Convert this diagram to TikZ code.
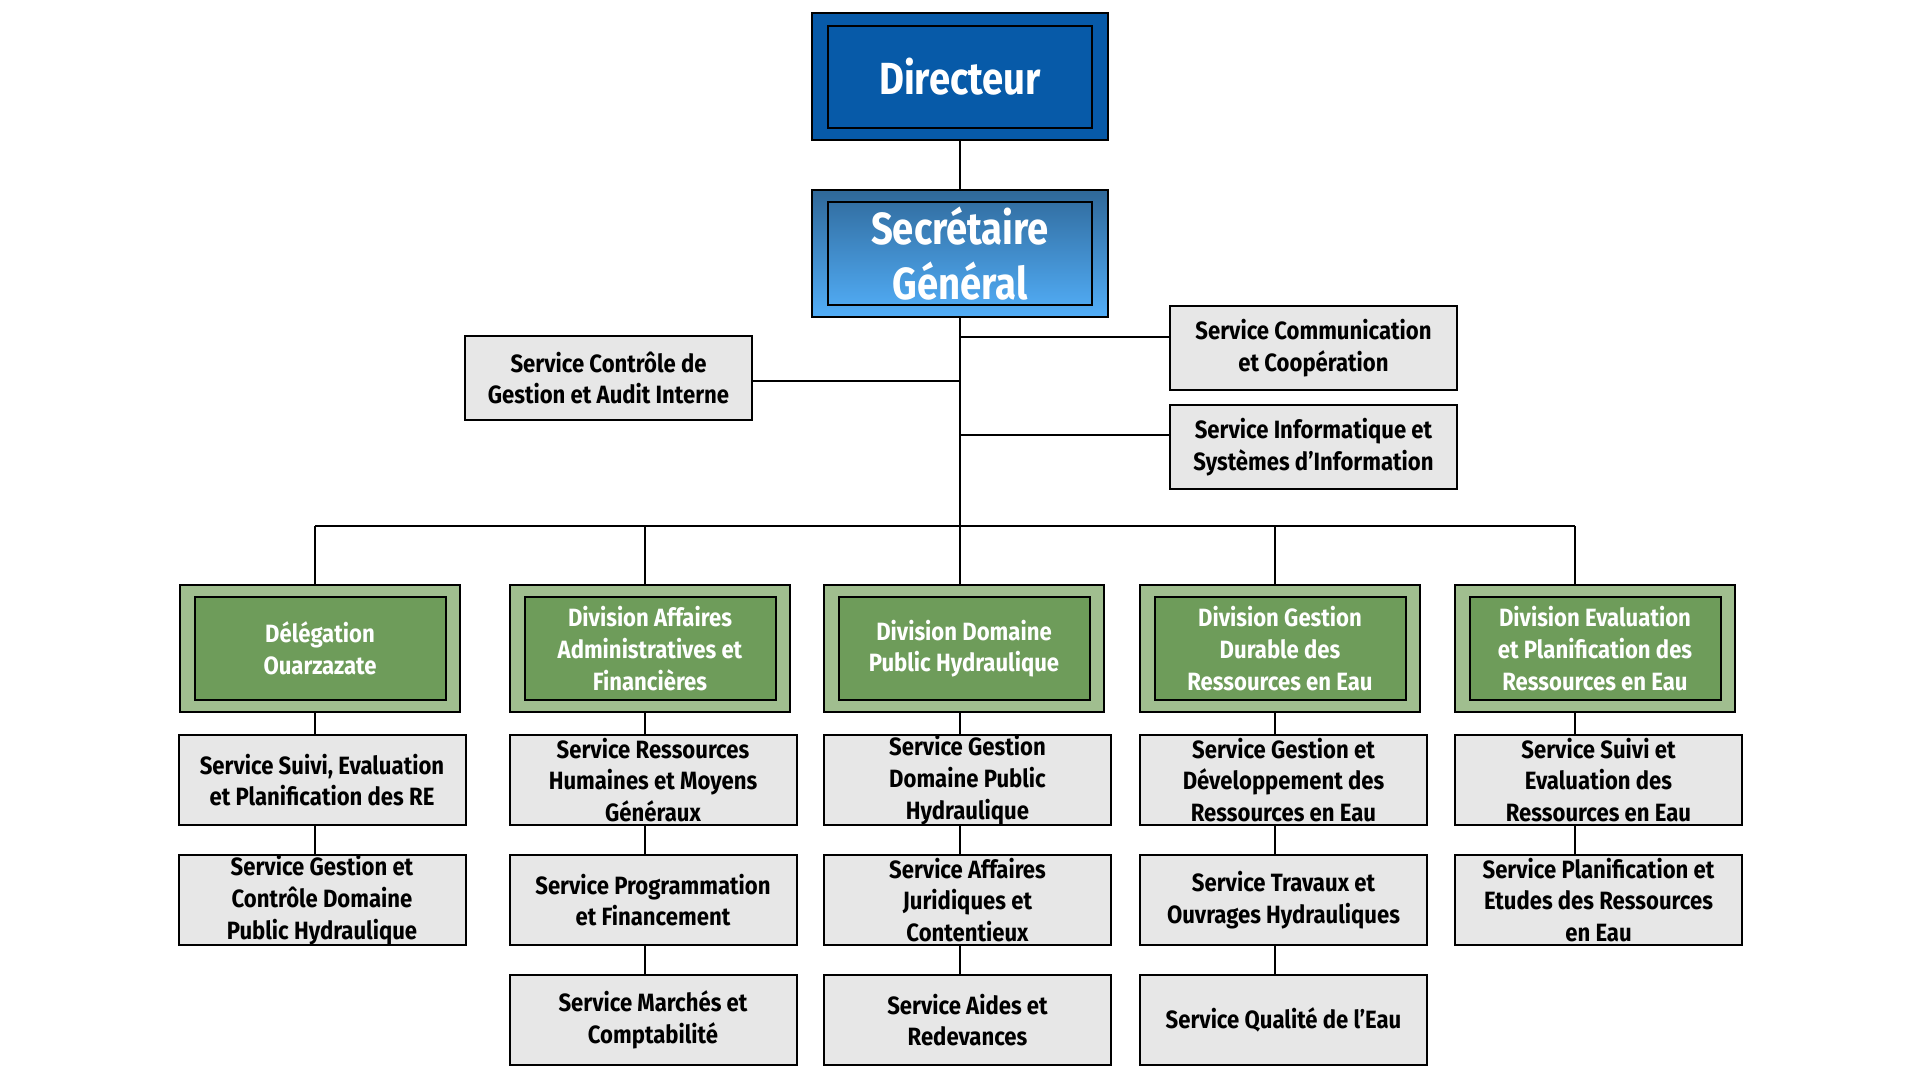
\documentclass[tikz,border=0pt]{standalone}
\usepackage{fontspec}
\newfontfamily\cf[FakeStretch=0.885]{Fira Sans}
\newfontfamily\cfbig[FakeStretch=0.85]{Fira Sans}
\definecolor{dirblue}{HTML}{075AA8}
\definecolor{sgtop}{HTML}{2F6899}
\definecolor{sgbot}{HTML}{52AEF8}
\definecolor{divlight}{HTML}{A0BE8F}
\definecolor{divdark}{HTML}{6E9C5A}
\definecolor{svcgray}{HTML}{E7E7E7}
\begin{document}
\begin{tikzpicture}[x=1pt,y=-1pt,
  box/.style={draw=black,line width=2pt,inner sep=0pt,outer sep=0pt,align=center},
  dirouter/.style={box,fill=dirblue,minimum width=296pt,minimum height=127pt},
  dirinner/.style={box,fill=dirblue,minimum width=264pt,minimum height=102pt,text=white,font=\cfbig\bfseries\fontsize{45}{54}\selectfont},
  sgouter/.style={box,top color=sgtop,bottom color=sgbot,minimum width=296pt,minimum height=127pt},
  sginner/.style={box,top color=sgtop!88!sgbot,bottom color=sgbot!92!sgtop,minimum width=264pt,minimum height=103pt,text=white,font=\cfbig\bfseries\fontsize{45}{55}\selectfont},
  divouter/.style={box,fill=divlight,minimum width=280pt,minimum height=127pt},
  divinner/.style={box,fill=divdark,minimum width=251pt,minimum height=103pt,text=white,font=\cf\bfseries\fontsize{25}{31.7}\selectfont},
  svc/.style={box,fill=svcgray,minimum width=287pt,minimum height=90pt,text=black,font=\cf\bfseries\fontsize{25}{31.7}\selectfont},
  side/.style={svc,minimum height=84pt},
  conn/.style={draw=black,line width=2pt}]
\useasboundingbox[fill=white] (0,0) rectangle (1920,1080);

% top
\node[dirouter] (dir) at (960,76.5) {};
\node[dirinner] (dirin) at (960,77) {Directeur};
\node[sgouter] (sg) at (960,253.5) {};
\node[sginner] (sgin) at (960,253.5) {Secrétaire\\Général};

% side services
\node[side] (ctrl) at (608.5,378) {Service Contrôle de\\Gestion et Audit Interne};
\node[side] (comm) at (1313.5,348) {Service Communication\\et Coopération};
\node[side] (info) at (1313.5,447) {Service Informatique et\\Systèmes d’Information};

% divisions
\node[divouter] (d1o) at (320,648.5) {};
\node[divinner] (d1) at (320,648.5) {Délégation\\Ouarzazate};
\node[divouter] (d2o) at (650,648.5) {};
\node[divinner] (d2) at (650,648.5) {Division Affaires\\Administratives et\\Financières};
\node[divouter] (d3o) at (964,648.5) {};
\node[divinner] (d3) at (964,648.5) {Division Domaine\\Public Hydraulique};
\node[divouter] (d4o) at (1280,648.5) {};
\node[divinner] (d4) at (1280,648.5) {Division Gestion\\Durable des\\Ressources en Eau};
\node[divouter] (d5o) at (1595,648.5) {};
\node[divinner] (d5) at (1595,648.5) {Division Evaluation\\et Planification des\\Ressources en Eau};

% services
\node[svc] (s11) at (322,780) {Service Suivi, Evaluation\\et Planification des RE};
\node[svc] (s12) at (322,900) {Service Gestion et\\Contrôle Domaine\\Public Hydraulique};
\node[svc] (s21) at (653,780) {Service Ressources\\Humaines et Moyens\\Généraux};
\node[svc] (s22) at (653,900) {Service Programmation\\et Financement};
\node[svc] (s23) at (653,1020) {Service Marchés et\\Comptabilité};
\node[svc] (s31) at (967.5,780) {Service Gestion\\Domaine Public\\Hydraulique};
\node[svc] (s32) at (967.5,900) {Service Affaires\\Juridiques et\\Contentieux};
\node[svc] (s33) at (967.5,1020) {Service Aides et\\Redevances};
\node[svc] (s41) at (1283.5,780) {Service Gestion et\\Développement des\\Ressources en Eau};
\node[svc] (s42) at (1283.5,900) {Service Travaux et\\Ouvrages Hydrauliques};
\node[svc] (s43) at (1283.5,1020) {Service Qualité de l’Eau};
\node[svc] (s51) at (1598.5,780) {Service Suivi et\\Evaluation des\\Ressources en Eau};
\node[svc] (s52) at (1598.5,900) {Service Planification et\\Etudes des Ressources\\en Eau};

% connectors
\draw[conn] (dir.south) -- (sg.north);
\coordinate (trk) at (960,381);
\coordinate (trc) at (960,337);
\coordinate (tri) at (960,435);
\coordinate (b1) at (315,526);
\coordinate (b2) at (645,526);
\coordinate (b3) at (960,526);
\coordinate (b4) at (1275,526);
\coordinate (b5) at (1575,526);
\draw[conn] (sg.south) -- (b3 |- d3o.north);
\draw[conn] (trk) -- (trk -| ctrl.east);
\draw[conn] (trc) -- (trc -| comm.west);
\draw[conn] (tri) -- (tri -| info.west);
\draw[conn] (b1) -- (b5);
\draw[conn] (b1) -- (b1 |- d1o.north);
\draw[conn] (b2) -- (b2 |- d2o.north);
\draw[conn] (b4) -- (b4 |- d4o.north);
\draw[conn] (b5) -- (b5 |- d5o.north);
% column 1
\draw[conn] (b1 |- d1o.south) -- (b1 |- s11.north);
\draw[conn] (b1 |- s11.south) -- (b1 |- s12.north);
% column 2
\draw[conn] (b2 |- d2o.south) -- (b2 |- s21.north);
\draw[conn] (b2 |- s21.south) -- (b2 |- s22.north);
\draw[conn] (b2 |- s22.south) -- (b2 |- s23.north);
% column 3
\draw[conn] (b3 |- d3o.south) -- (b3 |- s31.north);
\draw[conn] (b3 |- s31.south) -- (b3 |- s32.north);
\draw[conn] (b3 |- s32.south) -- (b3 |- s33.north);
% column 4
\draw[conn] (b4 |- d4o.south) -- (b4 |- s41.north);
\draw[conn] (b4 |- s41.south) -- (b4 |- s42.north);
\draw[conn] (b4 |- s42.south) -- (b4 |- s43.north);
% column 5
\draw[conn] (b5 |- d5o.south) -- (b5 |- s51.north);
\draw[conn] (b5 |- s51.south) -- (b5 |- s52.north);
\end{tikzpicture}
\end{document}
